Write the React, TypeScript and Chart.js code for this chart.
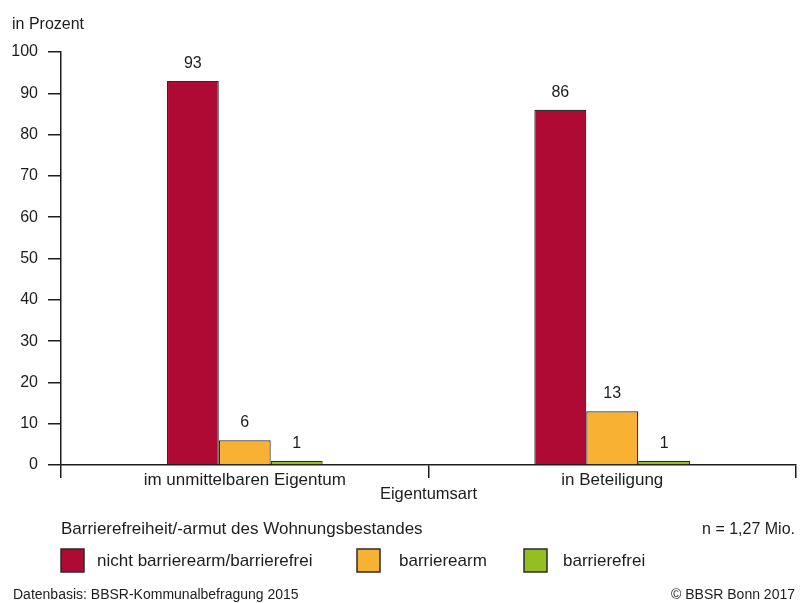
import React, { useEffect, useRef } from "react";
import { Chart, registerables } from "chart.js";

Chart.register(...registerables);

const categories = ["im unmittelbaren Eigentum", "in Beteiligung"];
const seriesNames = ["nicht barrierearm/barrierefrei", "barrierearm", "barrierefrei"];
const nichtBarrierearm = [93, 86];
const barrierearm = [6, 13];
const barrierefrei = [1, 1];
const seriesColors = ["#AF0A33", "#F8B133", "#93BF22"];
const yMin = 0;
const yMax = 100;
const yStep = 10;
const yTitle = "in Prozent";
const xTitle = "Eigentumsart";
const legendTitle = "Barrierefreiheit/-armut des Wohnungsbestandes";
const sampleNote = "n = 1,27 Mio.";
const sourceNote = "Datenbasis: BBSR-Kommunalbefragung 2015";
const copyrightNote = "© BBSR Bonn 2017";

const FONT = "'Liberation Sans', Arial, sans-serif";
const INK = "#1d1d1b";

const textPlugin = {
  id: "customText",
  afterDatasetsDraw(chart: any) {
    const ctx = chart.ctx;
    ctx.save();
    ctx.fillStyle = INK;
    ctx.font = `16px ${FONT}`;
    ctx.textAlign = "center";
    ctx.textBaseline = "alphabetic";
    chart.data.datasets.forEach((ds: any, i: number) => {
      const meta = chart.getDatasetMeta(i);
      meta.data.forEach((bar: any, j: number) => {
        ctx.fillText(String(ds.data[j]), bar.x, bar.y - 13);
      });
    });
    ctx.restore();
  },
  afterDraw(chart: any) {
    const ctx = chart.ctx;
    const area = chart.chartArea;
    ctx.save();
    ctx.fillStyle = INK;
    ctx.textBaseline = "alphabetic";

    // y title
    ctx.font = `16px ${FONT}`;
    ctx.textAlign = "left";
    ctx.fillText(yTitle, 12, 29);

    // x title
    ctx.font = `16.5px ${FONT}`;
    ctx.textAlign = "center";
    ctx.fillText(xTitle, (area.left + area.right) / 2, 499);

    // legend title + n
    ctx.font = `17px ${FONT}`;
    ctx.textAlign = "left";
    ctx.fillText(legendTitle, area.left, 534);
    ctx.font = `16px ${FONT}`;
    ctx.textAlign = "right";
    ctx.fillText(sampleNote, 795, 534);

    // legend items
    const boxX = [61, 357, 524];
    const textX = [97, 399, 563];
    ctx.font = `17px ${FONT}`;
    ctx.textAlign = "left";
    seriesNames.forEach((name, i) => {
      ctx.fillStyle = seriesColors[i];
      ctx.fillRect(boxX[i], 549, 23, 23);
      ctx.strokeStyle = "#2b2b2b";
      ctx.lineWidth = 1.5;
      ctx.strokeRect(boxX[i], 549, 23, 23);
      ctx.fillStyle = INK;
      ctx.fillText(name, textX[i], 566);
    });

    // footer
    ctx.font = `14px ${FONT}`;
    ctx.textAlign = "left";
    ctx.fillText(sourceNote, 13, 599);
    ctx.textAlign = "right";
    ctx.fillText(copyrightNote, 795, 599);
    ctx.restore();
  },
};

export default function App() {
  const canvasRef = useRef<HTMLCanvasElement | null>(null);

  useEffect(() => {
    if (!canvasRef.current) return;
    const values = [nichtBarrierearm, barrierearm, barrierefrei];
    const chart = new Chart(canvasRef.current, {
      type: "bar",
      data: {
        labels: categories,
        datasets: seriesNames.map((name, i) => ({
          label: name,
          data: values[i],
          backgroundColor: seriesColors[i],
          borderColor: "#2b2b2b",
          borderWidth: 1.2,
          categoryPercentage: 0.424,
          barPercentage: 1,
        })),
      },
      options: {
        responsive: false,
        animation: false,
        layout: { padding: { top: 52, right: 12, bottom: 0, left: 0 } },
        plugins: {
          legend: { display: false },
          tooltip: { enabled: false },
          title: { display: false },
        },
        scales: {
          x: {
            grid: {
              offset: true,
              drawOnChartArea: false,
              drawTicks: true,
              tickLength: 13,
              color: INK,
              lineWidth: 1.5,
            },
            border: { display: true, color: INK, width: 1.5 },
            ticks: {
              font: { family: FONT, size: 17 },
              color: INK,
              padding: -8,
              maxRotation: 0,
              autoSkip: false,
            },
            afterFit: (scale: any) => {
              scale.height = 603 - 465;
            },
          },
          y: {
            min: yMin,
            max: yMax,
            grid: {
              drawOnChartArea: false,
              drawTicks: true,
              tickLength: 13,
              color: INK,
              lineWidth: 1.5,
            },
            border: { display: true, color: INK, width: 1.5 },
            ticks: {
              stepSize: yStep,
              font: { family: FONT, size: 16 },
              color: INK,
              padding: 10,
            },
            afterFit: (scale: any) => {
              scale.width = 61;
            },
          },
        },
      },
      plugins: [textPlugin],
    });
    return () => chart.destroy();
  }, []);

  return (
    <div style={{ position: "absolute", left: 0, top: 0, width: 808, height: 603, background: "#fff" }}>
      <canvas ref={canvasRef} width={808} height={603} style={{ display: "block" }} />
    </div>
  );
}
